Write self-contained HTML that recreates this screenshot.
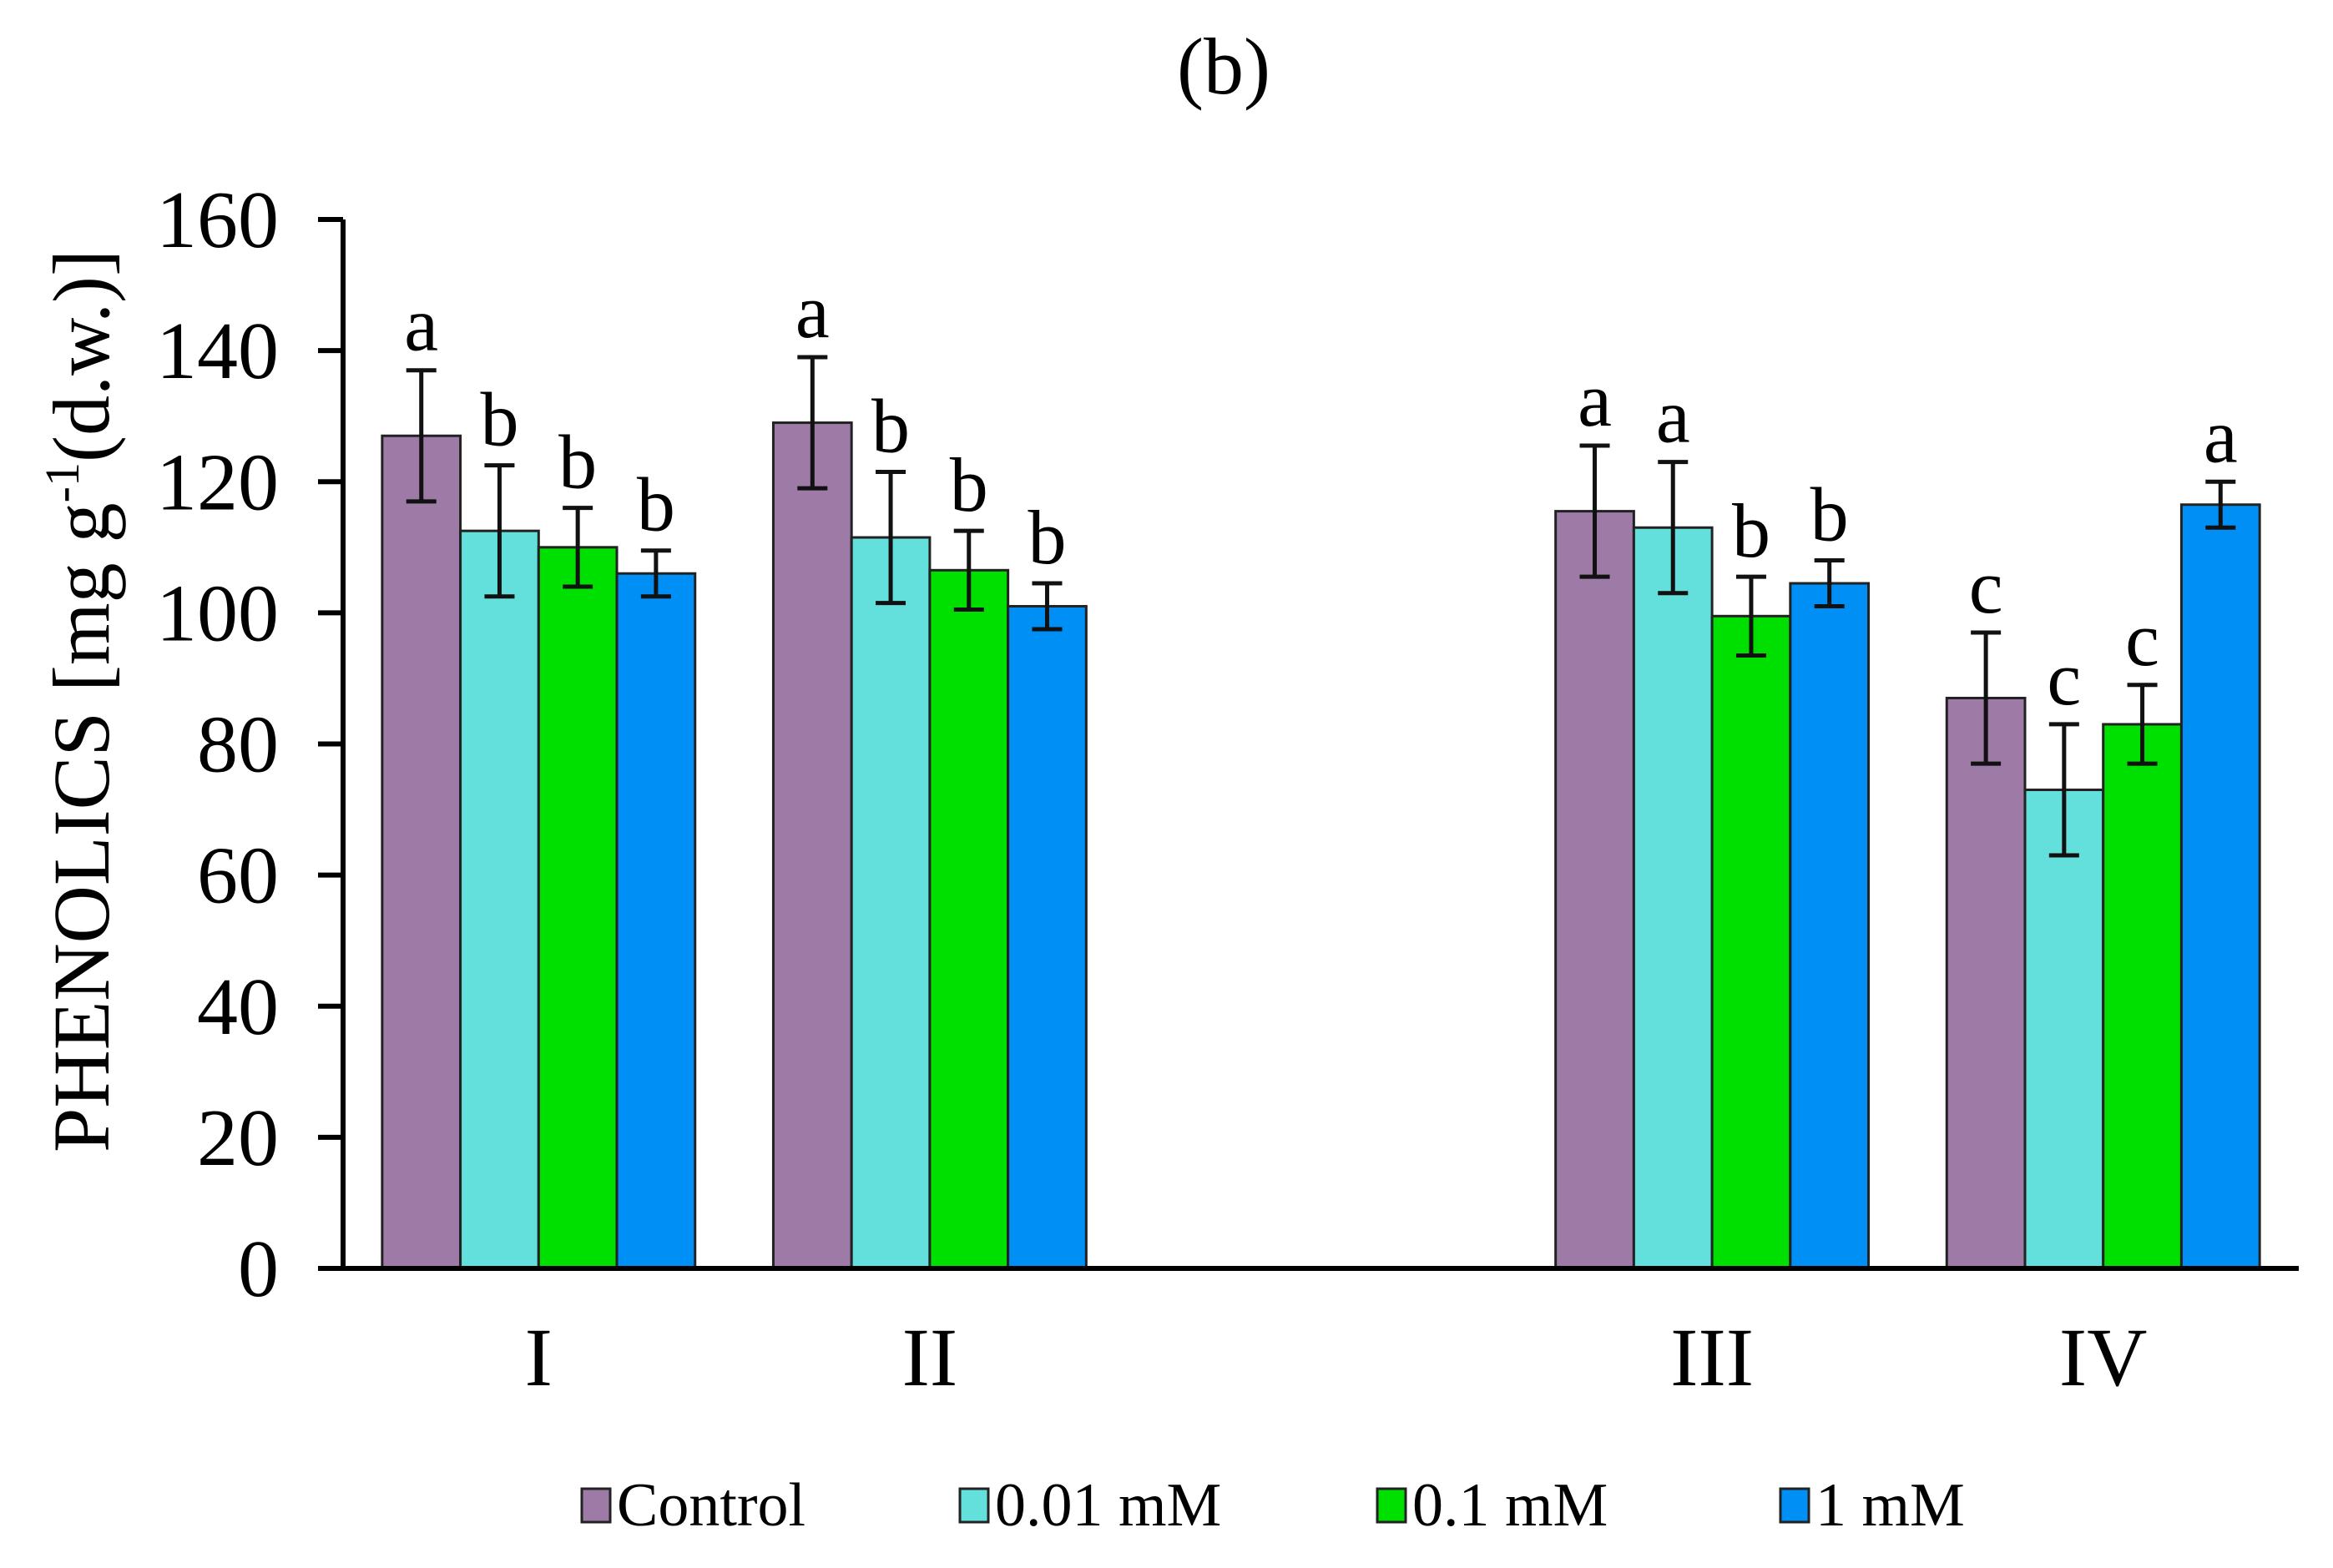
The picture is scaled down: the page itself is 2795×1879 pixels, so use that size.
<!DOCTYPE html>
<html><head><meta charset="utf-8"><style>
html,body{margin:0;padding:0;background:#fff;}
svg{display:block;font-family:"Liberation Serif",serif;}
</style></head><body>
<svg id="chart" width="2795" height="1879" viewBox="0 0 2795 1879" xmlns="http://www.w3.org/2000/svg">
<text x="1466" y="112" font-size="96" text-anchor="middle">(b)</text>
<text transform="translate(130,840) rotate(-90)" font-size="96" text-anchor="middle">PHENOLICS [mg g<tspan font-size="58" dy="-36">-1</tspan><tspan dy="36">(d.w.)]</tspan></text>
<g id="plot"></g>
<g id="legend"></g>
</svg>
<script>
const categories = ["I", "II", "", "III", "IV"];
const seriesNames = ["Control", "0.01 mM", "0.1 mM", "1 mM"];
const seriesColors = ["#9e7aa6", "#63e0dc", "#00e000", "#008ff5"];
const control = [127, 129, null, 115.5, 87];
const mM001 = [112.5, 111.5, null, 113, 73];
const mM01 = [110, 106.5, null, 99.5, 83];
const mM1 = [106, 101, null, 104.5, 116.5];
const errControl = [10, 10, null, 10, 10];
const err001 = [10, 10, null, 10, 10];
const err01 = [6, 6, null, 6, 6];
const err1 = [3.5, 3.5, null, 3.5, 3.5];
const lettersControl = ["a", "a", "", "a", "c"];
const letters001 = ["b", "b", "", "a", "c"];
const letters01 = ["b", "b", "", "b", "c"];
const letters1 = ["b", "b", "", "b", "a"];
const yTicks = [0, 20, 40, 60, 80, 100, 120, 140, 160];

const NS = "http://www.w3.org/2000/svg";
const plot = document.getElementById("plot");
const X0 = 411, X1 = 2754, Y0 = 1520, Y1 = 263, YMAX = 160;
const band = (X1 - X0) / categories.length;
const y = v => Y0 - (v / YMAX) * (Y0 - Y1);
const xBand = i => X0 + band * i;
function el(tag, attrs, parent) {
  const e = document.createElementNS(NS, tag);
  for (const k in attrs) e.setAttribute(k, attrs[k]);
  (parent || plot).appendChild(e);
  return e;
}
const series = [control, mM001, mM01, mM1];
const errs = [errControl, err001, err01, err1];
const letters = [lettersControl, letters001, letters01, letters1];
const groupW = band * 0.8, barW = groupW / 4;

series.forEach((vals, s) => {
  vals.forEach((v, i) => {
    if (v === null) return;
    const bx = xBand(i) + band * 0.1 + s * barW;
    const r = el("rect", {x: bx, y: y(v), width: barW, height: Y0 - y(v), fill: seriesColors[s], stroke: "#222", "stroke-width": 3});
    
    
    const cx = bx + barW / 2, e = errs[s][i];
    const g = el("path", {d: `M${cx},${y(v + e)}V${y(v - e)}M${cx - 18},${y(v + e)}H${cx + 18}M${cx - 18},${y(v - e)}H${cx + 18}`, stroke: "#111", "stroke-width": 5, fill: "none"});
    
    
    const t = el("text", {x: cx, y: y(v + e) - 24, "font-size": 92, "text-anchor": "middle"});
    
    
    t.textContent = letters[s][i];
  });
});

const ya = el("path", {d: `M${X0},${Y1}V${Y0}`, stroke: "#000", "stroke-width": 6});


const xa = el("path", {d: `M${X0 - 30},${Y0}H${X1}`, stroke: "#000", "stroke-width": 6});


yTicks.forEach(v => {
  const tk = el("path", {d: `M${X0 - 30},${y(v)}H${X0}`, stroke: "#000", "stroke-width": 6});
  
  
  const t = el("text", {x: 334, y: y(v) + 33, "font-size": 98, "text-anchor": "end"});
  
  
  t.textContent = v;
});
categories.forEach((c, i) => {
  if (!c) return;
  const t = el("text", {x: xBand(i) + band / 2, y: 1660, "font-size": 100, "text-anchor": "middle"});
  
  
  t.textContent = c;
});

const legend = document.getElementById("legend");
const legX = [697, 1150, 1650, 2133];
seriesNames.forEach((n, s) => {
  const r = el("rect", {x: legX[s], y: 1784, width: 34, height: 40, fill: seriesColors[s], stroke: "#222", "stroke-width": 3}, legend);
  
  
  const t = el("text", {x: legX[s] + 42, y: 1828, "font-size": 74}, legend);
  
  
  t.textContent = n;
});
</script>
</body></html>
